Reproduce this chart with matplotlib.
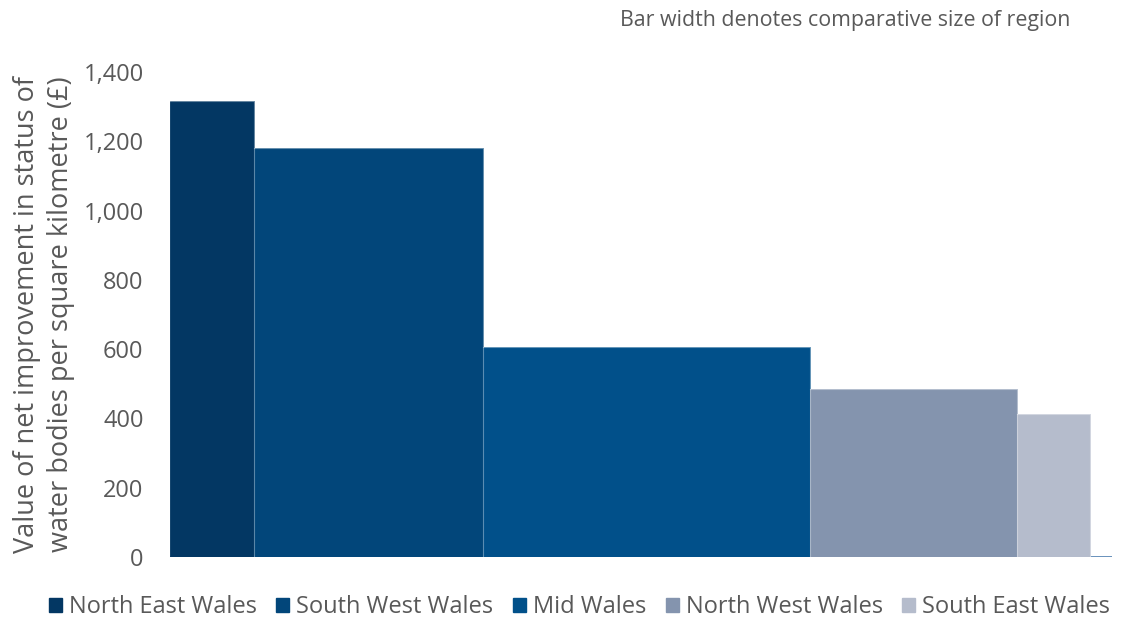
import matplotlib
matplotlib.use("Agg")
import matplotlib.pyplot as plt
from matplotlib.patches import Patch
import numpy as np

plt.rcParams['font.family'] = ['Open Sans', 'DejaVu Sans']

regions = ["North East Wales", "South West Wales", "Mid Wales", "North West Wales", "South East Wales"]
values = [1316, 1181, 606, 485, 413]
region_size = [84, 229, 327, 207, 73]
colors = ["#033763", "#02467a", "#01508a", "#8494ae", "#b5bccc"]

fig = plt.figure(figsize=(11.41, 6.21), dpi=100)
ax = fig.add_axes([0.149, 0.1031, 0.8256, 0.7809])

lefts = np.concatenate([[0], np.cumsum(region_size)[:-1]])
ax.bar(lefts, values, width=region_size, align='edge', color=colors,
       edgecolor=colors, linewidth=0.6, zorder=2)
for l, w, v in zip(lefts, region_size, values):
    ax.plot([l, l + w, l + w], [v, v, 0], color='white', alpha=0.35, lw=0.8, zorder=3)

total = sum(region_size)
ax.set_xlim(0, total + 22)
ax.set_ylim(0, 1400)
ax.axhline(0, color='#4f7fb0', lw=1.2, zorder=1)

ax.set_yticks(np.arange(0, 1401, 200))
ax.set_yticklabels([f"{v:,}" for v in range(0, 1401, 200)])
ax.tick_params(axis='y', length=0, labelsize=17, colors='#595959', pad=19)
ax.set_xticks([])
for s in ax.spines.values():
    s.set_visible(False)

ax.set_ylabel("Value of net improvement in status of\nwater bodies per square kilometre (£)",
              fontsize=19.5, color='#595959', linespacing=1.3, labelpad=6)

fig.text(0.938, 0.967, "Bar width denotes comparative size of region",
         fontsize=15.4, color='#595959', ha='right', va='center')

handles = [Patch(facecolor=c, edgecolor=c) for c in colors]
fig.legend(handles, regions, loc='center', bbox_to_anchor=(0.508, 0.022), ncol=5,
           frameon=False, fontsize=17, labelcolor='#595959', handlelength=0.55,
           handleheight=0.55, handletextpad=0.3, columnspacing=0.82,
           borderpad=0.2)

fig.savefig("out.png", dpi=100)
